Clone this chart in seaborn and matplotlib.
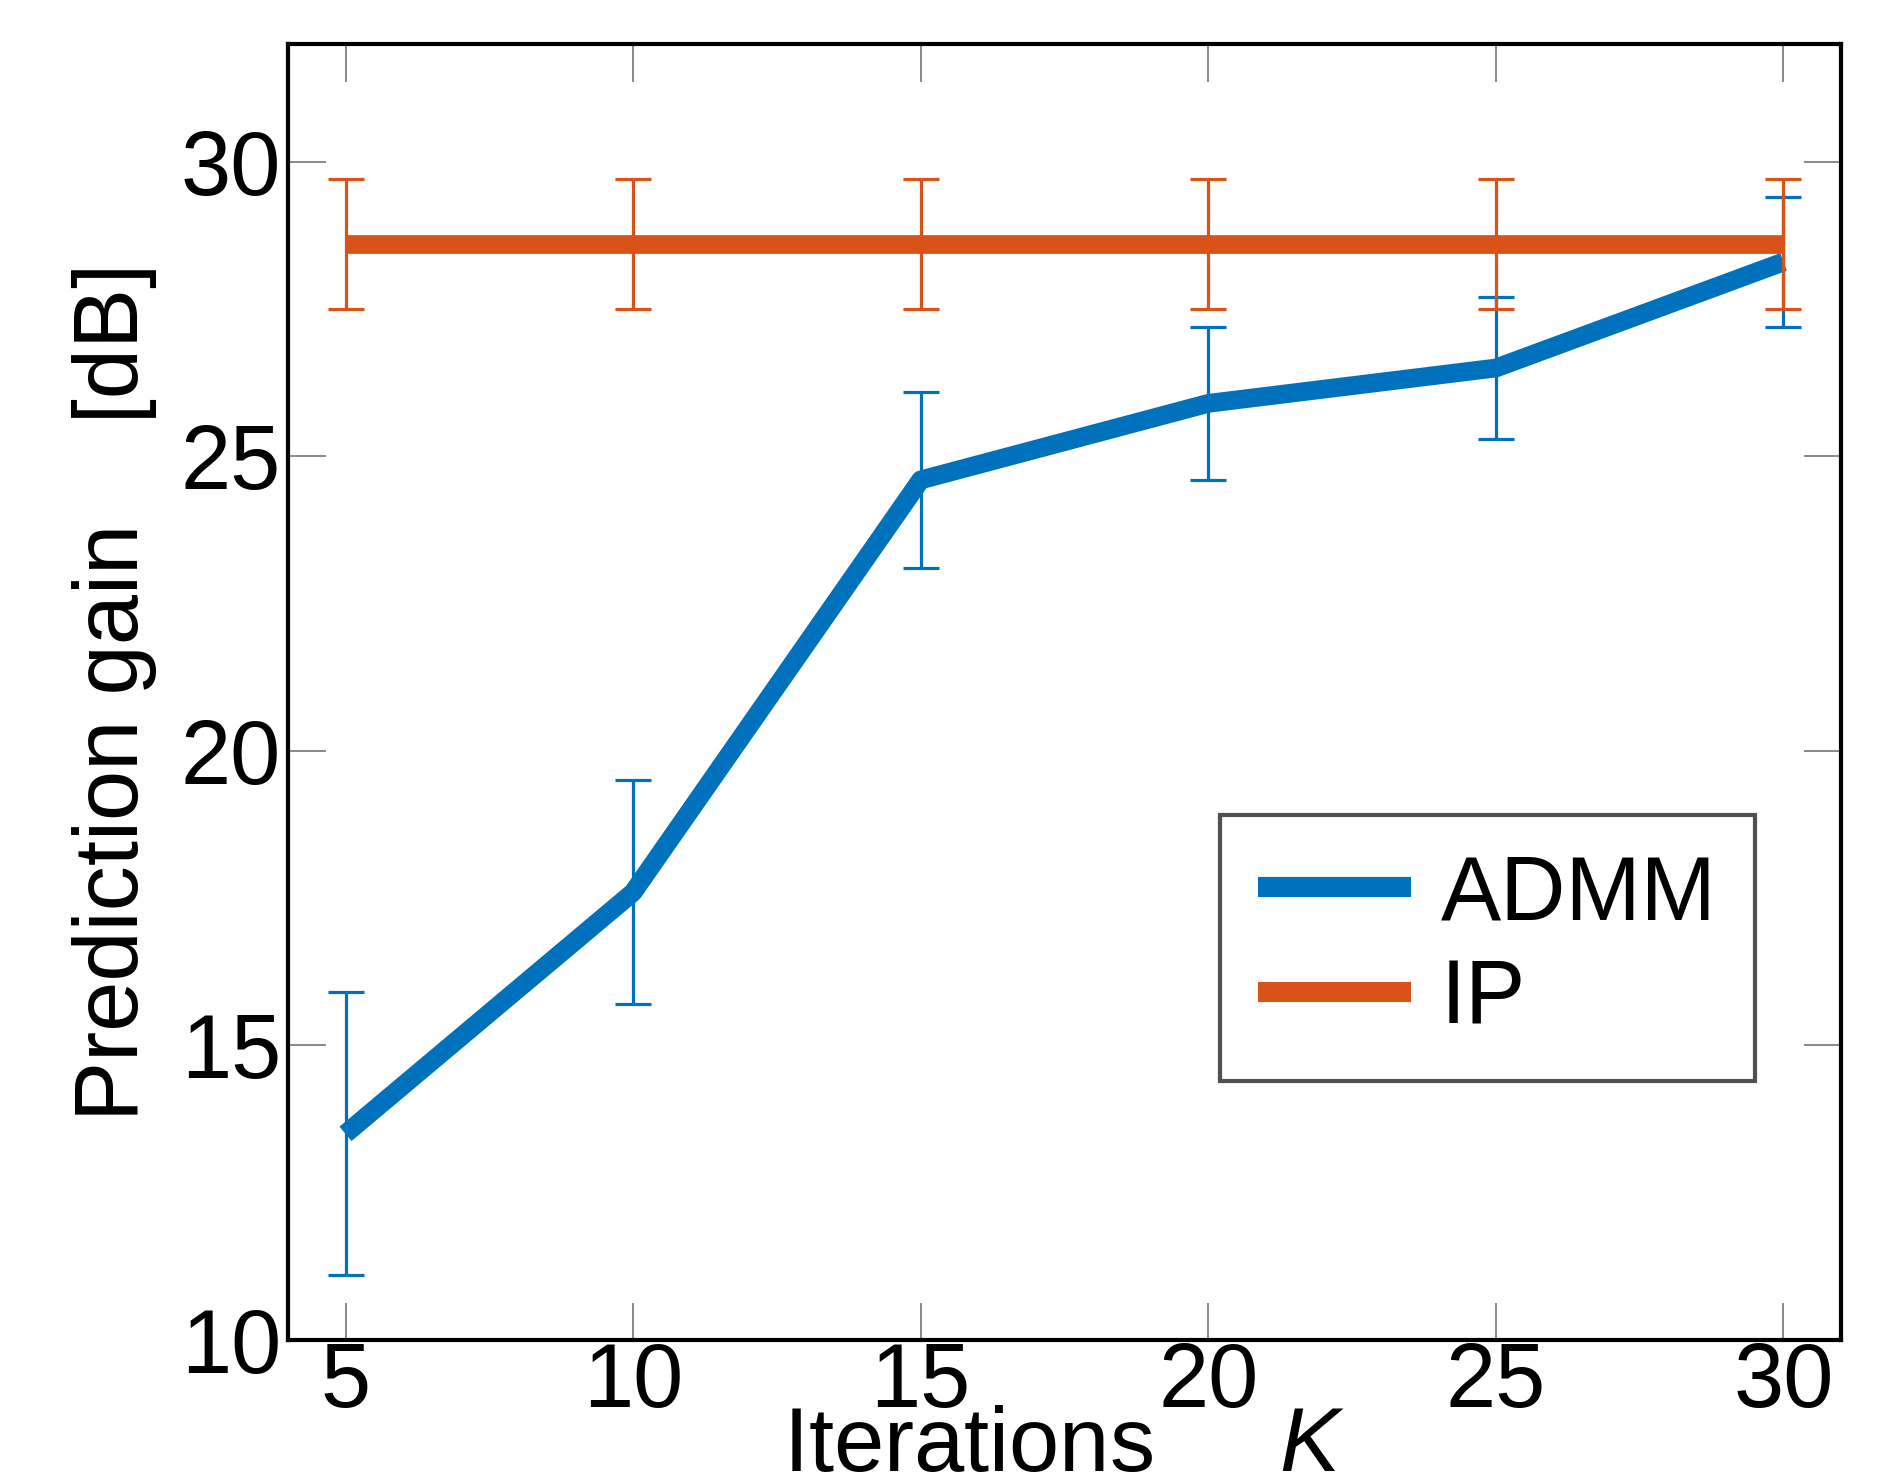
import numpy as np
import pandas as pd
import seaborn as sns
import matplotlib
matplotlib.use("Agg")
import matplotlib.pyplot as plt

# datos
iteraciones = [5, 10, 15, 20, 25, 30]
admm_gain = [13.5, 17.6, 24.6, 25.9, 26.5, 28.3]
admm_err = [2.4, 1.9, 1.5, 1.3, 1.2, 1.1]
ip_gain = [28.6, 28.6, 28.6, 28.6, 28.6, 28.6]
ip_err = [1.1, 1.1, 1.1, 1.1, 1.1, 1.1]
y_ticks = [10, 15, 20, 25, 30]

azul = "#0072BD"
naranja = "#D95319"

sns.set_style("white")
plt.rcParams['font.family'] = ['Liberation Sans', 'DejaVu Sans']
plt.rcParams['mathtext.fontset'] = 'custom'
plt.rcParams['mathtext.it'] = 'Liberation Sans:italic'
plt.rcParams['mathtext.rm'] = 'Liberation Sans'
plt.rcParams['text.color'] = 'black'
plt.rcParams['axes.labelcolor'] = 'black'

df = pd.DataFrame({"K": iteraciones + iteraciones,
                   "gain": admm_gain + ip_gain,
                   "metodo": ["ADMM"] * 6 + ["IP"] * 6})

fig = plt.figure(figsize=(18.79, 14.73), dpi=100)
ax = fig.add_axes([288/1879, 1 - 1340/1473, (1841-288)/1879, (1340-44)/1473])

fs = 65

# barras de error
ax.errorbar(iteraciones, admm_gain, yerr=admm_err, fmt='none', ecolor=azul,
            elinewidth=2.3, capsize=13, capthick=2.3, zorder=2)
sns.lineplot(data=df[df.metodo == "ADMM"], x="K", y="gain", color=azul, lw=13.5,
             label="ADMM", ax=ax, zorder=3, solid_capstyle='butt')
ax.errorbar(iteraciones, ip_gain, yerr=ip_err, fmt='none', ecolor=naranja,
            elinewidth=2.3, capsize=13, capthick=2.3, zorder=4)
sns.lineplot(data=df[df.metodo == "IP"], x="K", y="gain", color=naranja, lw=13.5,
             label="IP", ax=ax, zorder=5, solid_capstyle='butt')

ax.set_xlim(4, 31)
ax.set_ylim(10, 32)
ax.set_xticks(iteraciones)
ax.set_yticks(y_ticks)
ax.tick_params(axis='both', direction='in', length=27, width=1.3, color='#808080',
               top=True, right=True, bottom=True, left=True,
               labelsize=fs, labelcolor='black')
ax.tick_params(axis='x', pad=1)
ax.tick_params(axis='y', pad=5)
for s in ax.spines.values():
    s.set_linewidth(3)
    s.set_color('black')
    s.set_zorder(6)

ax.set_xlabel("Iterations     $K$", fontsize=fs)
ax.xaxis.label.set_va('baseline')
ax.xaxis.set_label_coords(0.5, -0.101)
ax.set_ylabel("Prediction gain    [dB]", fontsize=fs)
ax.yaxis.set_label_coords(-0.112, 0.5)
ax.yaxis.label.set_va('center')

leg = ax.legend(loc='upper left', bbox_to_anchor=(0.600, 0.405), borderaxespad=0,
                fontsize=fs, frameon=True, fancybox=False, handlelength=1.7,
                handletextpad=0.33, borderpad=0.42, labelspacing=0.22)
leg.get_frame().set_edgecolor('#262626')
leg.get_frame().set_linewidth(3)
for l in leg.get_lines():
    l.set_linewidth(14.5)

fig.savefig("out.png", dpi=100, facecolor='white')
